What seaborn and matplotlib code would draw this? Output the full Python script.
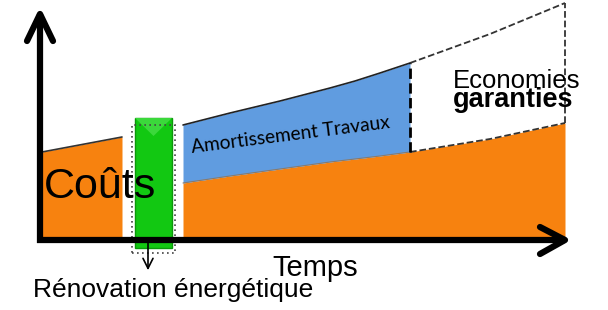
import numpy as np
import pandas as pd
import matplotlib
matplotlib.use('Agg')
import matplotlib.pyplot as plt
import seaborn as sns

ORANGE = "#F7820F"
BLEU = "#609CE0"
VERT = "#12C812"

# Coûts avant rénovation
avant_t = [2, 82]
avant_cout = [88, 103]

# Coûts après rénovation (partie orange)
apres_t = [143, 190, 240, 290, 340, 370, 450, 525]
apres_cout = [57, 64, 71, 78, 84, 88, 101, 117]

# Amortissement des travaux (partie bleue, haut)
travaux_t = [143, 190, 240, 290, 315, 340, 355, 370]
travaux_haut = [115, 127, 139, 152, 159, 167, 172, 177]

# Coûts sans rénovation (ligne pointillée)
sans_reno_t = [370, 450, 525]
sans_reno = [177, 206, 237]

# Barre verte : rénovation énergétique
reno_t = [95, 132]
reno_haut = 122
reno_bas = -8

sns.set_theme(style='white')
plt.rcParams['font.family'] = ['Liberation Sans', 'DejaVu Sans']
plt.rcParams['text.color'] = 'black'

fig = plt.figure(figsize=(6.08, 3.10), dpi=100)
ax = fig.add_axes([0, 0, 1, 1])
ax.set_xlim(-40, 568)
ax.set_ylim(-70, 240)
ax.axis('off')

# zones colorées
ax.fill_between(avant_t, 0, avant_cout, color=ORANGE, lw=0)
ax.fill_between(apres_t, 0, apres_cout, color=ORANGE, lw=0)
bas_bleu = np.interp(travaux_t, apres_t, apres_cout)
ax.fill_between(travaux_t, bas_bleu, travaux_haut, color=BLEU, lw=0)

# contours
sns.lineplot(x=avant_t, y=avant_cout, color='#333333', lw=1.2, ax=ax, sort=False, estimator=None)
sns.lineplot(x=travaux_t, y=travaux_haut, color='#222222', lw=1.2, ax=ax, sort=False, estimator=None)
sns.lineplot(x=travaux_t, y=bas_bleu, color='#8a7a6a', lw=0.8, ax=ax, sort=False, estimator=None)
sns.lineplot(x=sans_reno_t, y=sans_reno, color='#333333', lw=1.3, ls='--', ax=ax, sort=False, estimator=None)
fin = [i for i, t in enumerate(apres_t) if t >= travaux_t[-1]]
sns.lineplot(x=[apres_t[i] for i in fin], y=[apres_cout[i] for i in fin], color='#333333', lw=1.3, ls='--',
             ax=ax, sort=False, estimator=None)
ax.plot([travaux_t[-1]] * 2, [bas_bleu[-1], travaux_haut[-1]], color='black', lw=2, ls='--')
ax.plot([sans_reno_t[-1]] * 2, [apres_cout[-1], sans_reno[-1]], color='#333333', lw=1.3, ls='--')

# barre verte
ax.bar(np.mean(reno_t), reno_haut - reno_bas, bottom=reno_bas, width=reno_t[1] - reno_t[0],
       color=VERT, edgecolor='#0a9a0a', lw=1, zorder=3)
ax.fill([reno_t[0], reno_t[1], np.mean(reno_t)], [reno_haut, reno_haut, reno_haut - 18],
        color='#3BD83B', lw=0, zorder=4)
ax.add_patch(plt.Rectangle((reno_t[0] - 3, reno_bas - 5), reno_t[1] - reno_t[0] + 6, reno_haut - reno_bas - 2,
                           fill=False, ls=(0, (1, 2)), lw=1.2, ec='#444444', zorder=5))

# axes avec flèches
ax.plot([0, 0], [-3, 226], color='black', lw=4.5, solid_capstyle='butt', zorder=6)
ax.plot([-13, 0, 13], [199, 226, 199], color='black', lw=4.5, solid_capstyle='round', zorder=6)
ax.plot([-3, 525], [0, 0], color='black', lw=4.5, solid_capstyle='butt', zorder=6)
ax.plot([500, 525, 500], [13, 0, -14], color='black', lw=4.5, solid_capstyle='round', zorder=6)

# flèche rénovation
ax.annotate('', xy=(108, -33), xytext=(108, 0),
            arrowprops=dict(arrowstyle='->', color='black', lw=1.2, mutation_scale=18), zorder=7)

# textes
ax.text(4, 42, 'Coûts', fontsize=31, ha='left', va='baseline', zorder=8)
ax.text(152, 87, 'Amortissement Travaux', fontsize=13.8, family=['Lato', 'DejaVu Sans'],
        rotation=7.2, rotation_mode='anchor', ha='left', va='baseline')
ax.text(413, 152, 'Economies', fontsize=18.5, ha='left', va='baseline')
ax.text(413, 133, 'garanties', fontsize=19.5, fontweight='bold', ha='left', va='baseline')
ax.text(232, -36, 'Temps', fontsize=21, ha='left', va='baseline')
ax.text(-7, -57, 'Rénovation énergétique', fontsize=19, ha='left', va='baseline')

plt.savefig('out.png', dpi=100)
plt.close()
